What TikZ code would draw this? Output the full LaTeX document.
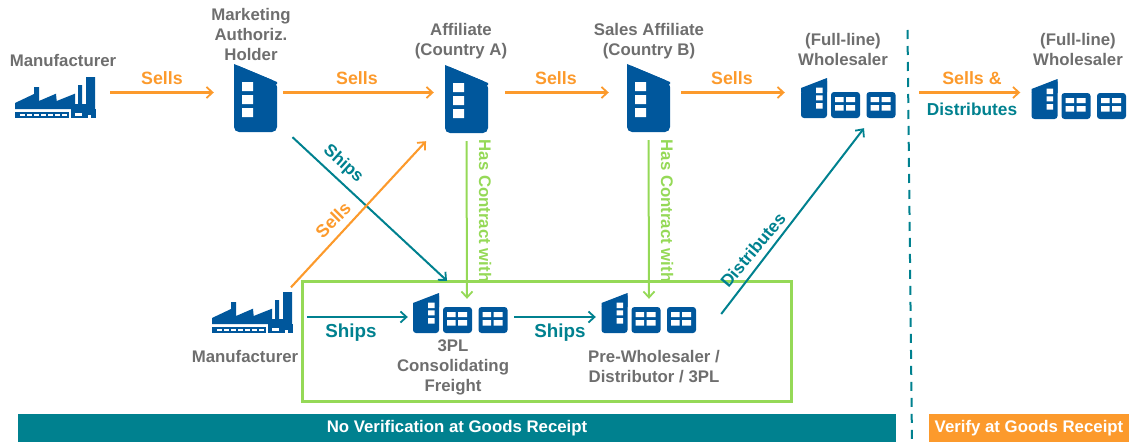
\documentclass[tikz,border=0pt]{standalone}
\usepackage{fontspec}
\setmainfont{Liberation Sans}
\usetikzlibrary{arrows.meta}
\definecolor{org}{HTML}{FC9A2C}
\definecolor{tl}{HTML}{00818F}
\definecolor{blu}{HTML}{00579C}
\definecolor{grn}{HTML}{95D957}
\definecolor{gry}{HTML}{6E6E6E}
\tikzset{
 x=1pt,y=-1pt,
 tip/.style={-{Straight Barb[length=6pt,width=11pt,line width=1.8pt]}},
 sellarrow/.style={draw=org,line width=2.1pt,tip},
 shiparrow/.style={draw=tl,line width=2pt,tip},
 contractarrow/.style={draw=grn,line width=2pt,tip},
 lab/.style={font=\bfseries\fontsize{16.8}{20}\selectfont,text=gry,align=center,inner sep=0pt},
 sellslab/.style={font=\bfseries\fontsize{17.8}{20}\selectfont,text=org,inner sep=0pt},
 shipslab/.style={font=\bfseries\fontsize{18.8}{20}\selectfont,text=tl,inner sep=0pt},
 distlab/.style={font=\bfseries\fontsize{17.3}{20}\selectfont,text=tl,inner sep=0pt},
 contractlab/.style={font=\bfseries\fontsize{16.8}{20}\selectfont,text=grn,inner sep=0pt},
 barlab/.style={font=\bfseries\fontsize{16.8}{20}\selectfont,text=white,inner sep=0pt,align=center},
 pics/tower/.style={code={
   \fill[blu,rounded corners=5pt] (0,0)--(0,68)--(43,68)--(43,18)--cycle;
   \fill[blu] (0,0)--(0,20)--(43,20)--(43,18)--cycle;
   \fill[white] (8,18) rectangle (19,27) (8,31) rectangle (19,40) (8,44) rectangle (19,53);
 }},
 pics/smallbox/.style={code={
   \fill[blu,rounded corners=3pt] (0,0) rectangle (29,26);
   \fill[white] (4,5) rectangle (12.5,10) (15,5) rectangle (24,10) (4,13) rectangle (12.5,18.5) (15,13) rectangle (24,18.5);
 }},
 pics/depot/.style={code={
   \fill[blu,rounded corners=3pt] (0,12)--(0,40)--(26,40)--(26,0)--cycle;
   \fill[blu] (0,10)--(26,0)--(26,14)--(0,14)--cycle;
   \fill[white] (15,9.5) rectangle (21.7,15) (15,17.3) rectangle (21.7,22.3) (15,25) rectangle (21.7,30.7);
   \pic at (30,14) {smallbox};
   \pic at (65.5,14) {smallbox};
 }},
 pics/factory/.style={code={
   \fill[blu] (0,32)--(0,26)--(19,17)--(19,10)--(24,10)--(24,24)--(41,16.7)--(41.7,24)--(60,16.7)--(60,27)--(63,27)--(63,8)--(67,8)--(67,27)--(71,27)--(71,0)--(80,0)--(80,32)--cycle;
   \fill[blu] (0,34.5) rectangle (81,41);
   \fill[blu] (56,32) rectangle (81,35);
   \foreach \i in {0,...,6}{\fill[white] (5+7*\i,36.5) rectangle (9.5+7*\i,39);}
   \fill[white] (54,34) rectangle (56,41);
   \fill[white] (60,36.2) rectangle (67,38.8);
   \fill[white] (73,37.5) rectangle (75.5,41);
 }}
}
\begin{document}
\begin{tikzpicture}
\useasboundingbox (0,0) rectangle (1129,444);
% icon anchors
\node[minimum width=81pt,minimum height=41pt,inner sep=0pt] (mfa) at (55.5,97.5) {};
\pic at (15,77) {factory};
\node[minimum width=43pt,minimum height=68pt,inner sep=0pt] (mah) at (255.5,98) {};
\pic at (234,64) {tower};
\node[minimum width=43pt,minimum height=68pt,inner sep=0pt] (afa) at (466.5,99) {};
\pic at (445,65) {tower};
\node[minimum width=43pt,minimum height=68pt,inner sep=0pt] (afb) at (648.5,98) {};
\pic at (627,64) {tower};
\node[minimum width=95pt,minimum height=40pt,inner sep=0pt] (whl) at (848.5,98) {};
\pic at (801,78) {depot};
\node[minimum width=95pt,minimum height=40pt,inner sep=0pt] (whr) at (1079,99) {};
\pic at (1031.5,79) {depot};
\node[minimum width=81pt,minimum height=41pt,inner sep=0pt] (mfb) at (252.5,312.5) {};
\pic at (212,292) {factory};
\node[minimum width=95pt,minimum height=40pt,inner sep=0pt] (tpl) at (460.5,313) {};
\pic at (413,293) {depot};
\node[minimum width=95pt,minimum height=40pt,inner sep=0pt] (pre) at (649,313) {};
\pic at (601.5,293) {depot};
% contract labels sit behind the green box
\node[contractlab,rotate=-90] at (485,211) {Has Contract with};
\node[contractlab,rotate=-90] at (667,211) {Has Contract with};
% box, bars
\node[draw=grn,line width=2.4pt,minimum width=489pt,minimum height=120pt,inner sep=0pt] (box) at (547,341.5) {};
\node[fill=tl,minimum width=878pt,minimum height=28pt,inner sep=0pt] (barl) at (457,428) {};
\node[barlab] at (barl) {No Verification at Goods Receipt};
\node[fill=org,minimum width=200pt,minimum height=28pt,inner sep=0pt] (barr) at (1029,428) {};
\node[barlab] at (barr) {Verify at Goods Receipt};
\coordinate (dtop) at (907.5,30);
\coordinate (dbot) at (912,444);
\draw[tl,line width=2pt,dash pattern=on 9pt off 7pt] (dtop)--(dbot);
% labels
\node[lab] at (63,60) {Manufacturer};
\node[lab] at (251,34) {Marketing\\Authoriz.\\Holder};
\node[lab] at (461,41) {Affiliate\\(Country A)};
\node[lab] at (649,41) {Sales Affiliate\\(Country B)};
\node[lab] at (843,49) {(Full-line)\\Wholesaler};
\node[lab] at (1078,49) {(Full-line)\\Wholesaler};
\node[lab] at (245,356) {Manufacturer};
\node[lab] at (453,367) {3PL\\Consolidating\\Freight};
\node[lab] at (654,367) {Pre-Wholesaler /\\Distributor / 3PL};
% arrows
\draw[sellarrow] ([xshift=14pt,yshift=5pt]mfa.east)--([xshift=-20pt,yshift=5.5pt]mah.west);
\draw[sellarrow] ([xshift=6pt,yshift=5.5pt]mah.east)--([xshift=-11pt,yshift=6.5pt]afa.west);
\draw[sellarrow] ([xshift=17pt,yshift=6.5pt]afa.east)--([xshift=-18pt,yshift=5.5pt]afb.west);
\draw[sellarrow] ([xshift=11pt,yshift=5.5pt]afb.east)--([xshift=-16pt,yshift=5.5pt]whl.west);
\draw[sellarrow] ([xshift=23pt,yshift=5.5pt]whl.east)--([xshift=-11pt,yshift=6.5pt]whr.west);
\draw[shiparrow] ([shift={(37,5)}]mah.south)--([shift={(-13.5,-12)}]tpl.north);
\draw[sellarrow] ([shift={(38.5,-4.5)}]mfb.north)--([shift={(-40.5,8)}]afa.south);
\draw[contractarrow] ([yshift=-8pt]afa.south)--([xshift=6.5pt,yshift=-6pt]tpl.north);
\draw[contractarrow] ([yshift=-8pt]afb.south)--([yshift=-6pt]pre.north);
\draw[shiparrow] ([shift={(24.5,1)}]pre.east)--([shift={(15.5,10)}]whl.south);
\draw[shiparrow] ([xshift=14pt,yshift=-4.5pt]mfb.east)--([xshift=-5pt,yshift=-4pt]tpl.west);
\draw[shiparrow] ([xshift=6pt,yshift=-4pt]tpl.east)--([xshift=-5.5pt,yshift=-4pt]pre.west);
% arrow labels
\node[sellslab] at (162,78) {Sells};
\node[sellslab] at (357,78) {Sells};
\node[sellslab] at (556,78) {Sells};
\node[sellslab] at (732,78) {Sells};
\node[sellslab] at (972,78) {Sells \&};
\node[distlab] at (972,109) {Distributes};
\node[distlab,rotate=-42] at (343,164) {Ships};
\node[sellslab,rotate=45] at (333,220) {Sells};
\node[distlab,rotate=50] at (753,250) {Distributes};
\node[shipslab] at (351,333) {Ships};
\node[shipslab] at (560,333) {Ships};
\end{tikzpicture}
\end{document}
